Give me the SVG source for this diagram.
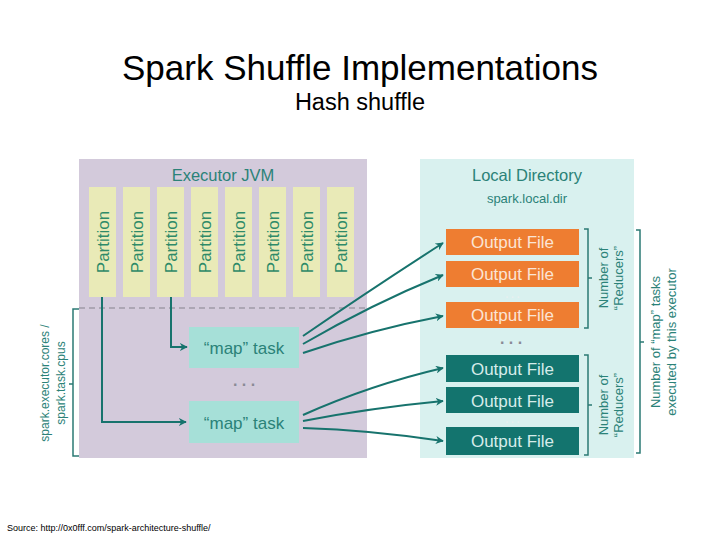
<svg xmlns="http://www.w3.org/2000/svg" width="720" height="540" viewBox="0 0 720 540">
<defs>
<marker id="ah" viewBox="0 0 10 10" refX="9" refY="5" markerWidth="8" markerHeight="8" markerUnits="userSpaceOnUse" orient="auto">
<path d="M0,0 L10,5 L0,10 L3,5 Z" fill="#17736d"/>
</marker>
</defs>
<style>
text{font-family:"Liberation Sans",Arial,sans-serif;}
.t{fill:#2b8278;}
.part{fill:#e9eab7;}
.ptxt{fill:#2e8a68;font-size:17px;text-anchor:middle;}
.map{fill:#a6e0d8;}
.of{fill:#ee7d31;}
.tf{fill:#13746e;}
.oft{fill:#fbe4d4;font-size:17px;text-anchor:middle;}
.tft{fill:#d6ecea;font-size:17px;text-anchor:middle;}
.br{fill:none;stroke:#2b7a74;stroke-width:1.5;}
.con{fill:none;stroke:#17736d;stroke-width:2;marker-end:url(#ah);}
.dots{fill:#8a8a96;font-size:16px;text-anchor:middle;font-weight:bold;}
.dotsw{fill:#e8f0f0;font-size:10px;text-anchor:middle;font-weight:bold;}
.lab{fill:#2b8278;font-size:13px;text-anchor:middle;}
</style>
<rect width="720" height="540" fill="#ffffff"/>
<text x="360" y="80" font-size="35" text-anchor="middle" fill="#000">Spark Shuffle Implementations</text>
<text x="360" y="110" font-size="23.5" text-anchor="middle" fill="#000">Hash shuffle</text>

<g id="executor">
<rect x="79" y="159" width="288" height="299" fill="#d3cadb"/>
<text x="223" y="181" font-size="16.5" text-anchor="middle" class="t">Executor JVM</text>
<line x1="79" y1="308" x2="367" y2="308" stroke="#a09aa8" stroke-width="1.5" stroke-dasharray="6,4"/>
</g>
<g id="partitions">
<rect class="part" x="89" y="187" width="27" height="110"/>
<rect class="part" x="123" y="187" width="27" height="110"/>
<rect class="part" x="157" y="187" width="27" height="110"/>
<rect class="part" x="191" y="187" width="27" height="110"/>
<rect class="part" x="225" y="187" width="27" height="110"/>
<rect class="part" x="259" y="187" width="27" height="110"/>
<rect class="part" x="293" y="187" width="27" height="110"/>
<rect class="part" x="327" y="187" width="27" height="110"/>
<text class="ptxt" transform="translate(108.5,242) rotate(-90)">Partition</text>
<text class="ptxt" transform="translate(142.5,242) rotate(-90)">Partition</text>
<text class="ptxt" transform="translate(176.5,242) rotate(-90)">Partition</text>
<text class="ptxt" transform="translate(210.5,242) rotate(-90)">Partition</text>
<text class="ptxt" transform="translate(244.5,242) rotate(-90)">Partition</text>
<text class="ptxt" transform="translate(278.5,242) rotate(-90)">Partition</text>
<text class="ptxt" transform="translate(312.5,242) rotate(-90)">Partition</text>
<text class="ptxt" transform="translate(346.5,242) rotate(-90)">Partition</text>
</g>
<g id="map1">
<rect class="map" x="189" y="327" width="110" height="41"/>
<text x="244" y="354" font-size="17" text-anchor="middle" class="t">“map” task</text>
</g>
<text class="dots" x="244" y="386">. . .</text>
<g id="map2">
<rect class="map" x="189" y="401" width="110" height="42"/>
<text x="244" y="429" font-size="17" text-anchor="middle" class="t">“map” task</text>
</g>
<g id="left-bracket">
<path class="br" d="M79,309 H73 V456 H79 M73,384 H69"/>
<text class="t" font-size="12" text-anchor="middle" transform="translate(49,383) rotate(-90)">spark.executor.cores /</text>
<text class="t" font-size="12" text-anchor="middle" transform="translate(65,383) rotate(-90)">spark.task.cpus</text>
</g>

<g id="localdir">
<rect x="420" y="159" width="214" height="299" fill="#d9f1ef"/>
<text x="527" y="181" font-size="16.5" text-anchor="middle" class="t">Local Directory</text>
<text x="527" y="203" font-size="13" text-anchor="middle" class="t">spark.local.dir</text>
</g>
<g id="orange-files">
<rect class="of" x="446" y="229" width="133" height="26"/>
<text class="oft" x="512.5" y="248">Output File</text>
<rect class="of" x="446" y="261" width="133" height="26"/>
<text class="oft" x="512.5" y="280">Output File</text>
<text class="dotsw" x="512.5" y="298">. . .</text>
<rect class="of" x="446" y="302" width="133" height="26"/>
<text class="oft" x="512.5" y="321">Output File</text>
</g>
<text class="dots" x="511" y="344" fill="#6a7a80">. . .</text>
<g id="teal-files">
<rect class="tf" x="446" y="355" width="133" height="27"/>
<text class="tft" x="512.5" y="375">Output File</text>
<rect class="tf" x="446" y="387" width="133" height="26"/>
<text class="tft" x="512.5" y="407">Output File</text>
<text class="dotsw" x="512.5" y="423">. . .</text>
<rect class="tf" x="446" y="427" width="133" height="28"/>
<text class="tft" x="512.5" y="447">Output File</text>
</g>
<g id="right-brackets">
<path class="br" d="M584,229 H588 V328 H584 M588,278 H592"/>
<text class="lab" transform="translate(608,278) rotate(-90)">Number of</text>
<text class="lab" transform="translate(623,278) rotate(-90)">“Reducers”</text>
<path class="br" d="M584,355 H588 V455 H584 M588,405 H592"/>
<text class="lab" transform="translate(608,405) rotate(-90)">Number of</text>
<text class="lab" transform="translate(623,405) rotate(-90)">“Reducers”</text>
<path class="br" d="M636,230 H640 V453 H636 M640,342 H644"/>
<text class="lab" transform="translate(660,342) rotate(-90)">Number of “map” tasks</text>
<text class="lab" transform="translate(676,342) rotate(-90)">executed by this executor</text>
</g>

<g id="connectors">
<path class="con" d="M102,297 V422 H186"/>
<path class="con" d="M171,297 V347 H187"/>
<path class="con" d="M303,336 Q370,290 443,243"/>
<path class="con" d="M303,344 Q370,305 443,275"/>
<path class="con" d="M303,353 Q370,330 443,316"/>
<path class="con" d="M303,415 Q370,385 443,368"/>
<path class="con" d="M303,421 Q370,408 443,401"/>
<path class="con" d="M303,428 Q370,430 443,441"/>
</g>

<text x="7" y="531" font-size="9" fill="#000">Source: http://0x0fff.com/spark-architecture-shuffle/</text>
</svg>
